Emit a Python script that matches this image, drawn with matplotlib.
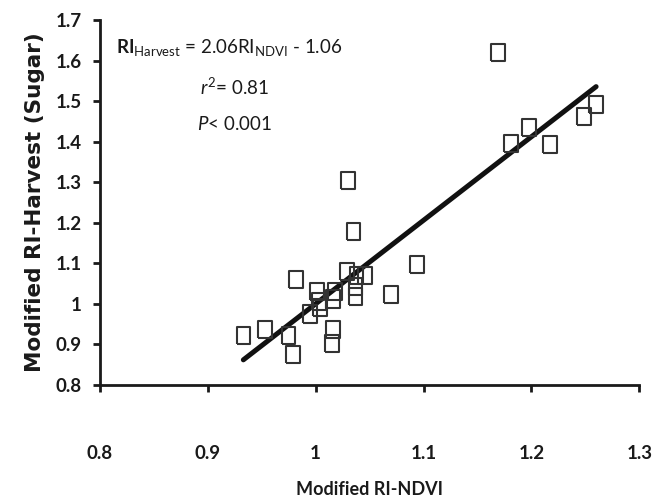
import numpy as np
import matplotlib
matplotlib.use('Agg')
from matplotlib import pyplot as plt

# modified relative index values
ri_ndvi = [0.933, 0.953, 0.975, 0.979, 0.982, 0.995, 1.001, 1.003, 1.004, 1.015,
           1.016, 1.016, 1.018, 1.029, 1.030, 1.035, 1.037, 1.037, 1.038, 1.046,
           1.070, 1.094, 1.169, 1.181, 1.198, 1.217, 1.249, 1.260]
ri_harvest = [0.921, 0.938, 0.921, 0.876, 1.059, 0.975, 1.030, 1.005, 0.990, 0.902,
              0.938, 1.012, 1.030, 1.081, 1.303, 1.178, 1.042, 1.018, 1.071, 1.071,
              1.022, 1.096, 1.619, 1.395, 1.435, 1.394, 1.461, 1.492]
slope, intercept = 2.06, -1.06

xticks = [0.8, 0.9, 1, 1.1, 1.2, 1.3]
xticklabels = ['0.8', '0.9', '1', '1.1', '1.2', '1.3']
yticks = [0.8, 0.9, 1, 1.1, 1.2, 1.3, 1.4, 1.5, 1.6, 1.7]
yticklabels = ['0.8', '0.9', '1', '1.1', '1.2', '1.3', '1.4', '1.5', '1.6', '1.7']

plt.rcParams['font.family'] = ['Lato', 'DejaVu Sans']
plt.rcParams['mathtext.fontset'] = 'custom'
plt.rcParams['mathtext.rm'] = 'Lato'
plt.rcParams['mathtext.it'] = 'Lato:italic'
plt.rcParams['mathtext.bf'] = 'Lato:bold'

ink = '#1a1a1a'
fig = plt.figure(figsize=(6.57, 4.99), dpi=100)
ax = fig.add_axes([0.152, 0.2285, 0.821, 0.7315])

# tall open rectangles
box = [(-0.4, -0.5), (0.4, -0.5), (0.4, 0.5), (-0.4, 0.5), (-0.4, -0.5)]
ax.scatter(ri_ndvi, ri_harvest, marker=box, s=150, facecolors='none',
           edgecolors='#333333', linewidths=1.5, zorder=3)

xs = np.array([min(ri_ndvi), max(ri_ndvi)])
ax.plot(xs, slope * xs + intercept, color='#111111', lw=3.6, zorder=2,
        solid_capstyle='round')

ax.set_xlim(0.8, 1.3)
ax.set_ylim(0.8, 1.7)
ax.set_xticks(xticks)
ax.set_xticklabels(xticklabels)
ax.set_yticks(yticks)
ax.set_yticklabels(yticklabels)
for side in ['top', 'right']:
    ax.spines[side].set_visible(False)
for side in ['left', 'bottom']:
    ax.spines[side].set_linewidth(2)
    ax.spines[side].set_color(ink)
ax.tick_params(axis='both', direction='out', length=5, width=2, color=ink,
               labelsize=13.5, labelcolor=ink)
ax.tick_params(axis='x', pad=38)
ax.tick_params(axis='y', pad=8)
for lab in ax.get_xticklabels() + ax.get_yticklabels():
    lab.set_fontweight('bold')

ax.set_xlabel('Modified RI-NDVI', fontsize=13, fontweight='bold', color=ink,
              labelpad=14)
ax.set_ylabel('Modified RI-Harvest (Sugar)', fontsize=15.5, fontweight='bold',
              color=ink, family=['DejaVu Sans'], labelpad=8)

ax.text(0.03, 0.925, r'$\mathbf{RI}_{\mathrm{Harvest}}$ = 2.06RI$_{\mathrm{NDVI}}$ - 1.06',
        transform=ax.transAxes, fontsize=13.5, color=ink, ha='left', va='center')
ax.text(0.25, 0.815, r'$\mathit{r}^{2}$= 0.81', transform=ax.transAxes,
        fontsize=13.5, color=ink, ha='center', va='center')
ax.text(0.25, 0.715, r'$\mathit{P}$< 0.001', transform=ax.transAxes,
        fontsize=13.5, color=ink, ha='center', va='center')

fig.savefig('out.png', dpi=100)
